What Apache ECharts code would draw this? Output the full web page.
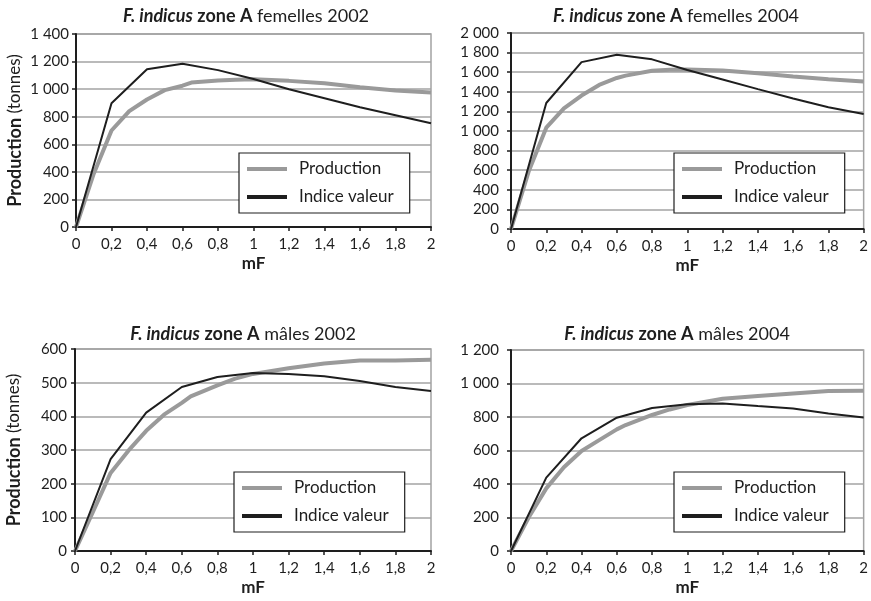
<!DOCTYPE html>
<html>
<head>
<meta charset="utf-8">
<script src="https://cdn.jsdelivr.net/npm/echarts@6/dist/echarts.min.js"></script>
<style>
html,body{margin:0;padding:0;background:#fff;}
#c{width:871px;height:601px;}
</style>
</head>
<body>
<div id="c"></div>
<script>
// ---- Data ----
var titles = [
  ['F. indicus', 'zone A', 'femelles 2002'],
  ['F. indicus', 'zone A', 'femelles 2004'],
  ['F. indicus', 'zone A', 'mâles 2002'],
  ['F. indicus', 'zone A', 'mâles 2004']
];
var seriesNames = ['Production', 'Indice valeur'];
var xName = 'mF';
var yNameBold = 'Production';
var yNameRest = '(tonnes)';

// mF values
var mfProd = [0, 0.1, 0.2, 0.3, 0.4, 0.5, 0.6, 0.65, 0.8, 0.9, 1.0, 1.2, 1.4, 1.6, 1.8, 2.0];
var mfIdx  = [0, 0.2, 0.4, 0.6, 0.8, 1.0, 1.2, 1.4, 1.6, 1.8, 2.0];

// femelles 2002
var prodF02 = [0, 387, 700, 840, 925, 993, 1025, 1048, 1063, 1068, 1072, 1060, 1043, 1014, 990, 975];
var idxF02  = [0, 898, 1145, 1184, 1138, 1074, 999, 934, 869, 811, 753];
// femelles 2004
var prodF04 = [0, 586, 1034, 1231, 1362, 1470, 1541, 1565, 1614, 1624, 1628, 1618, 1590, 1556, 1529, 1505];
var idxF04  = [0, 1286, 1703, 1779, 1731, 1622, 1525, 1427, 1331, 1242, 1174];
// mâles 2002
var prodM02 = [0, 115, 232, 298, 357, 405, 440, 459, 492, 512, 526, 543, 557, 566, 566, 568];
var idxM02  = [0, 273, 411, 487, 517, 529, 526, 519, 505, 487, 475];
// mâles 2004
var prodM04 = [0, 200, 374, 500, 597, 662, 726, 752, 812, 845, 872, 909, 925, 941, 955, 957];
var idxM04  = [0, 438, 673, 796, 854, 876, 881, 865, 851, 821, 797];

var yMax = [1400, 2000, 600, 1200];
var yStep = [200, 200, 100, 200];
var prodSets = [prodF02, prodF04, prodM02, prodM04];
var idxSets  = [idxF02, idxF04, idxM02, idxM04];

// ---- Layout ----
var FONT = 'Lato';
var grids = [
  {left: 76, top: 34, width: 355, height: 193},
  {left: 511, top: 33, width: 353, height: 196},
  {left: 75, top: 349, width: 356, height: 202},
  {left: 511, top: 350, width: 355, height: 201}
];
var titlePos = [
  {x: 246, y: 7}, {x: 676, y: 7}, {x: 243, y: 325}, {x: 677, y: 325}
];
var legendPos = [
  {left: 239, top: 153}, {left: 674, top: 153}, {left: 234, top: 472}, {left: 674, top: 472}
];
var yLabelMargin = [7, 12, 8, 12];

function pairs(xs, ys) {
  return xs.map(function (x, i) { return [x, ys[i]]; });
}
function fmtY(v) {
  var s = String(Math.round(v));
  if (s.length > 3) s = s.slice(0, s.length - 3) + ' ' + s.slice(s.length - 3);
  return s;
}
function fmtX(v) {
  return String(+(+v).toFixed(1)).replace('.', ',');
}

var GRID_COLOR = '#a3a3a3';
var AXIS_COLOR = '#1e1e1e';
var PROD_COLOR = '#9a9a9a';
var IDX_COLOR = '#1e1e1e';
var TXT = '#1e1e1e';

var option = {
  backgroundColor: '#ffffff',
  animation: false,
  textStyle: {fontFamily: FONT},
  title: [], grid: [], xAxis: [], yAxis: [], series: [], legend: []
};

for (var i = 0; i < 4; i++) {
  option.title.push({
    text: '{bi|' + titles[i][0] + '} {bo|' + titles[i][1] + '} {nr|' + titles[i][2] + '}',
    left: titlePos[i].x, top: titlePos[i].y, textAlign: 'center',
    padding: 0,
    textStyle: {
      fontFamily: FONT, fontSize: 18, fontWeight: 'normal', color: TXT,
      rich: {
        bi: {fontFamily: FONT, fontSize: 18, fontWeight: 'bold', fontStyle: 'italic', color: TXT},
        bo: {fontFamily: FONT, fontSize: 18, fontWeight: 'bold', fontStyle: 'normal', color: TXT},
        nr: {fontFamily: FONT, fontSize: 18, fontWeight: 'normal', fontStyle: 'normal', color: TXT}
      }
    }
  });
  option.grid.push({
    left: grids[i].left, top: grids[i].top, width: grids[i].width, height: grids[i].height,
    show: true, borderColor: GRID_COLOR, borderWidth: 1.5, backgroundColor: 'transparent',
    containLabel: false
  });
  option.xAxis.push({
    type: 'value', gridIndex: i, min: 0, max: 2, interval: 0.2,
    name: xName, nameLocation: 'middle', nameGap: 28,
    nameTextStyle: {fontFamily: FONT, fontSize: 17, fontWeight: 'bold', color: TXT},
    axisLine: {show: true, lineStyle: {color: AXIS_COLOR, width: 2}},
    axisTick: {show: true, length: 4, lineStyle: {color: AXIS_COLOR, width: 1.5}},
    axisLabel: {formatter: fmtX, fontFamily: FONT, fontSize: 15, color: TXT, margin: 10},
    splitLine: {show: false}
  });
  var yAx = {
    type: 'value', gridIndex: i, min: 0, max: yMax[i], interval: yStep[i],
    axisLine: {show: true, lineStyle: {color: AXIS_COLOR, width: 2}},
    axisTick: {show: true, length: 4, lineStyle: {color: AXIS_COLOR, width: 1.5}},
    axisLabel: {formatter: fmtY, fontFamily: FONT, fontSize: 15, color: TXT, margin: yLabelMargin[i]},
    splitLine: {show: true, lineStyle: {color: GRID_COLOR, width: 1.5}}
  };
  if (i === 0 || i === 2) {
    yAx.name = '{bo|' + yNameBold + '} {nr|' + yNameRest + '}';
    yAx.nameLocation = 'middle';
    yAx.nameRotate = 90;
    yAx.nameGap = 52;
    yAx.nameTextStyle = {
      fontFamily: FONT, fontSize: 17, fontWeight: 'normal', color: TXT,
      rich: {
        bo: {fontFamily: FONT, fontSize: 18, fontWeight: 'bold', color: TXT},
        nr: {fontFamily: FONT, fontSize: 17, fontWeight: 'normal', color: TXT}
      }
    };
  }
  option.yAxis.push(yAx);
  option.series.push({
    name: seriesNames[0], type: 'line', xAxisIndex: i, yAxisIndex: i,
    data: pairs(mfProd, prodSets[i]), showSymbol: false, symbol: 'none',
    lineStyle: {color: PROD_COLOR, width: 4}, itemStyle: {color: PROD_COLOR}, z: 2
  });
  option.series.push({
    name: seriesNames[1], type: 'line', xAxisIndex: i, yAxisIndex: i,
    data: pairs(mfIdx, idxSets[i]), showSymbol: false, symbol: 'none',
    lineStyle: {color: IDX_COLOR, width: 2}, itemStyle: {color: IDX_COLOR}, z: 3
  });
  option.legend.push({
    left: legendPos[i].left, top: legendPos[i].top,
    orient: 'vertical', itemWidth: 40, itemHeight: 4, itemGap: 8,
    padding: [6, 16, 6, 8],
    backgroundColor: '#ffffff', borderColor: '#1e1e1e', borderWidth: 1.2,
    selectedMode: false,
    textStyle: {fontFamily: FONT, fontSize: 17, color: TXT, padding: [0, 0, 0, 7], lineHeight: 20},
    data: [
      {name: seriesNames[0], icon: 'rect', itemStyle: {color: PROD_COLOR}},
      {name: seriesNames[1], icon: 'rect', itemStyle: {color: IDX_COLOR}}
    ]
  });
}

var chart = echarts.init(document.getElementById('c'), null, {renderer: 'canvas'});
chart.setOption(option);
</script>
</body>
</html>
